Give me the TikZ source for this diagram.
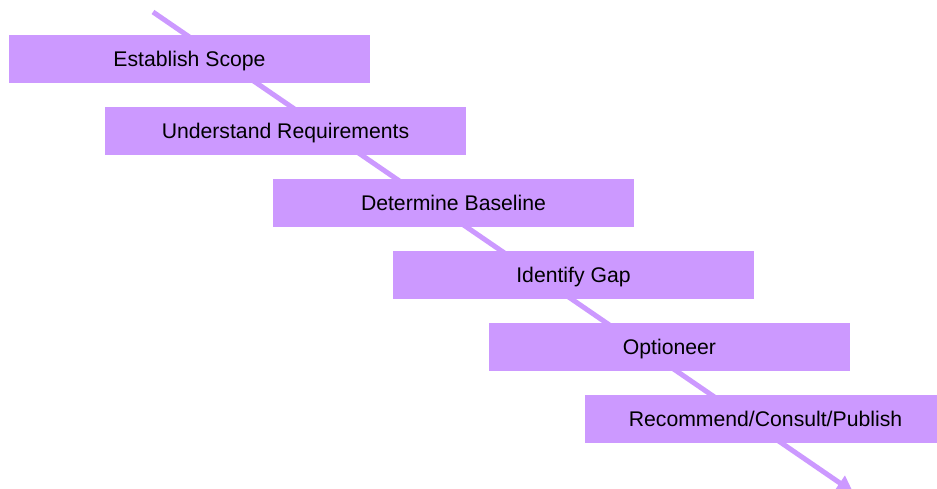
\documentclass[tikz,border=0pt]{standalone}
\usepackage{fontspec}
\setmainfont{Liberation Sans}
\usetikzlibrary{arrows.meta}
\definecolor{lilac}{RGB}{204,153,255}
\begin{document}
\begin{tikzpicture}[x=1pt,y=-1pt,
  stepbox/.style={fill=lilac,draw=none,minimum width=361pt,minimum height=48pt,inner sep=0pt,
    text height=15.2pt,text depth=0pt,
    font=\fontsize{21.2}{25}\selectfont,text=black},
  flow/.style={draw=lilac,line width=5pt,-{Triangle[length=16pt,width=17pt]}}]
\useasboundingbox (0,0) rectangle (937,488);
\clip (0,0) rectangle (937,488);
\coordinate (a) at (153,12);
\coordinate (b) at (853,492);
\draw[flow] (a) -- (b);
\node[stepbox] (s1) at (189.5,59) {Establish Scope};
\node[stepbox] (s2) at (285.5,131) {Understand Requirements};
\node[stepbox] (s3) at (453.5,203) {Determine Baseline};
\node[stepbox] (s4) at (573.5,275) {Identify Gap};
\node[stepbox] (s5) at (669.5,347) {Optioneer};
\node[stepbox] (s6) at (765.5,419) {Recommend/Consult/Publish};
\end{tikzpicture}
\end{document}
